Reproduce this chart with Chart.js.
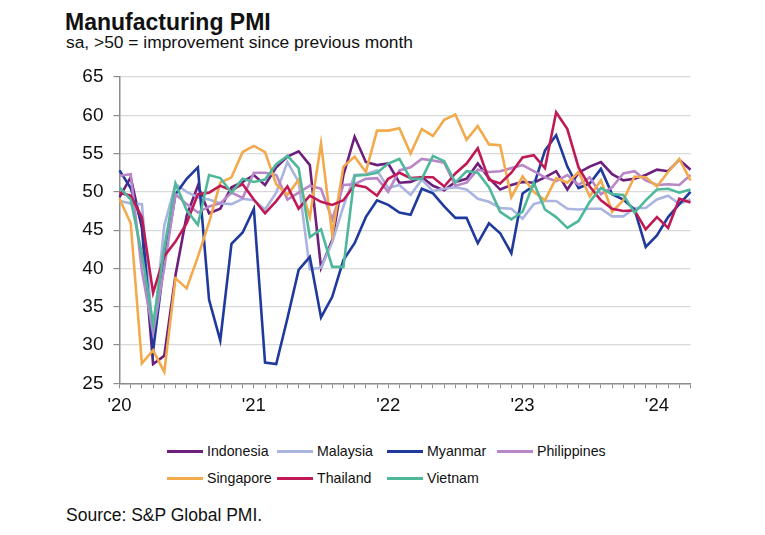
<!DOCTYPE html>
<html>
<head>
<meta charset="utf-8">
<script src="https://cdn.jsdelivr.net/npm/chart.js@4.4.1/dist/chart.umd.min.js"></script>
<style>
  html, body { margin:0; padding:0; background:#fff; }
  body { width:765px; height:535px; position:relative; overflow:hidden; font-family:"Liberation Sans", Arial, sans-serif; color:#111; }
  #title { position:absolute; left:65px; top:8.5px; font-size:23px; font-weight:bold; line-height:26px; white-space:nowrap; }
  #subtitle { position:absolute; left:66px; top:31.5px; font-size:17.4px; line-height:20px; white-space:nowrap; }
  #wrap { position:absolute; left:0; top:0; width:765px; height:430px; }
  #legend { position:absolute; left:0; top:440px; width:765px; }
  .lg { position:absolute; height:22px; font-size:14.2px; line-height:22px; white-space:nowrap; }
  .lg span.sw { position:absolute; left:0; top:10px; width:36px; height:3px; }
  .lg span.tx { position:absolute; left:40px; top:0; }
  #source { position:absolute; left:66px; top:505px; font-size:17.5px; line-height:20px; white-space:nowrap; }
</style>
</head>
<body>
<div id="title">Manufacturing PMI</div>
<div id="subtitle">sa, &gt;50 = improvement since previous month</div>
<div id="wrap"><canvas id="c" width="765" height="430"></canvas></div>
<div id="legend"></div>
<div id="source">Source: S&amp;P Global PMI.</div>
<script>
const months = [
  "2020-01","2020-02","2020-03","2020-04","2020-05","2020-06","2020-07","2020-08","2020-09","2020-10","2020-11","2020-12",
  "2021-01","2021-02","2021-03","2021-04","2021-05","2021-06","2021-07","2021-08","2021-09","2021-10","2021-11","2021-12",
  "2022-01","2022-02","2022-03","2022-04","2022-05","2022-06","2022-07","2022-08","2022-09","2022-10","2022-11","2022-12",
  "2023-01","2023-02","2023-03","2023-04","2023-05","2023-06","2023-07","2023-08","2023-09","2023-10","2023-11","2023-12",
  "2024-01","2024-02","2024-03","2024-04"
];
const yearTickLabels = { "2020-01":"'20", "2021-01":"'21", "2022-01":"'22", "2023-01":"'23", "2024-01":"'24" };
const yTicks = [25, 30, 35, 40, 45, 50, 55, 60, 65];

const indonesia = [49.3,51.9,45.3,27.5,28.6,39.1,46.9,50.8,47.2,47.8,50.6,51.3,
  52.2,50.9,53.2,54.6,55.3,53.5,40.1,43.7,52.2,57.2,53.9,53.5,
  53.7,51.2,51.3,51.9,50.8,50.2,51.3,51.7,53.7,51.8,50.3,50.9,
  51.3,51.2,51.9,52.7,50.3,52.5,53.3,53.9,52.3,51.5,51.7,52.2,
  52.9,52.7,54.2,52.9];
const malaysia = [48.8,48.5,48.4,31.3,45.6,51.0,50.0,49.3,49.0,48.5,48.4,49.1,
  48.9,47.7,49.9,53.9,51.3,39.9,40.1,43.4,48.1,52.2,52.3,52.8,
  50.5,50.9,49.6,51.6,50.1,50.4,50.6,50.3,49.1,48.7,47.9,47.8,
  46.5,48.4,48.8,48.8,47.8,47.7,47.8,47.8,46.8,46.8,47.9,47.9,
  49.0,49.5,48.4,49.0];
const myanmar = [52.8,50.5,45.9,29.2,41.0,49.7,51.7,53.2,35.9,30.6,43.2,44.7,
  47.8,27.7,27.5,33.5,39.8,41.5,33.6,36.3,41.1,43.3,46.7,48.9,
  48.3,47.3,47.0,50.4,49.8,48.1,46.6,46.6,43.3,45.9,44.6,42.0,
  49.8,50.8,55.4,57.4,53.3,50.5,51.1,53.0,49.7,49.0,47.7,42.8,
  44.3,46.7,48.4,50.0];
const philippines = [52.1,52.3,39.7,31.6,40.1,49.7,48.4,47.3,48.1,48.5,49.9,49.2,
  52.5,52.5,52.2,49.0,49.9,50.8,50.4,46.4,50.9,51.0,51.7,51.8,
  50.0,52.8,53.2,54.3,54.1,53.8,50.8,51.2,52.9,52.6,52.7,53.1,
  53.5,52.7,51.9,51.4,52.2,50.9,51.9,49.7,50.6,52.4,52.7,51.5,
  50.9,51.0,50.9,52.2];
const singapore = [49.1,45.9,27.6,29.3,26.5,38.7,37.4,41.5,46.0,51.2,51.9,55.2,
  56.0,55.2,51.0,49.6,51.6,46.7,56.3,44.4,53.3,54.6,52.6,58.0,
  58.0,58.3,55.0,58.2,57.3,59.4,60.1,56.8,58.6,56.2,56.1,49.3,
  52.0,50.0,48.9,51.8,51.2,52.6,49.4,51.5,47.4,48.9,52.0,51.9,
  50.7,52.6,54.3,51.5];
const thailand = [49.9,49.5,46.7,36.8,41.6,43.5,45.9,49.7,49.9,50.8,50.2,51.0,
  49.0,47.2,48.8,50.7,47.8,49.5,48.7,48.3,48.9,50.9,50.6,49.5,
  51.7,52.5,51.8,51.9,51.9,50.7,52.4,53.7,55.7,51.6,51.1,52.5,
  54.5,54.8,53.1,60.4,58.2,53.2,50.7,48.9,47.8,47.5,47.6,45.1,
  46.7,45.3,49.1,48.6];
const vietnam = [50.6,49.0,41.9,32.7,42.7,51.1,47.6,45.7,52.2,51.8,49.9,51.7,
  51.3,51.6,53.6,54.7,53.1,44.1,45.1,40.2,40.2,52.1,52.2,52.5,
  53.7,54.3,51.7,51.7,54.7,54.0,51.2,52.7,52.5,50.6,47.4,46.4,
  47.4,51.2,47.7,46.7,45.3,46.2,48.7,50.5,49.7,49.6,47.3,48.9,
  50.3,50.4,49.9,50.3];

const seriesNames = ["Indonesia","Malaysia","Myanmar","Philippines","Singapore","Thailand","Vietnam"];
const seriesValues = [indonesia, malaysia, myanmar, philippines, singapore, thailand, vietnam];
const seriesColors = ["#6d1f7e","#aab4e0","#1f3a9c","#b987c8","#f2aa4c","#bf1a55","#4fb89b"];

const datasets = seriesNames.map((n, i) => ({
  label: n,
  data: seriesValues[i],
  borderColor: seriesColors[i],
  backgroundColor: seriesColors[i],
  borderWidth: 2.6,
  pointRadius: 0,
  tension: 0,
  fill: false,
  order: seriesNames.length - i
}));

new Chart(document.getElementById('c'), {
  type: 'line',
  data: { labels: months, datasets: datasets },
  options: {
    responsive: false,
    animation: false,
    devicePixelRatio: 1,
    layout: { padding: { left: 0, right: 74.5, top: 77, bottom: 0 } },
    plugins: { legend: { display: false }, tooltip: { enabled: false }, title: { display: false } },
    scales: {
      x: {
        type: 'category',
        offset: false,
        border: { display: true, color: '#8c8c8c', width: 1.5 },
        grid: { display: true, drawOnChartArea: false, drawTicks: true, tickLength: 5, tickColor: '#8c8c8c', lineWidth: 1 },
        ticks: {
          autoSkip: false, maxRotation: 0, minRotation: 0, padding: 7,
          color: '#111', font: { family: 'Liberation Sans', size: 18.5 },
          callback: function(v, i) { return yearTickLabels[months[i]] || ''; }
        },
        afterFit: function(s) { s.height = 46.7; }
      },
      y: {
        min: 25, max: 65,
        border: { display: true, color: '#8c8c8c', width: 1.5 },
        grid: { color: '#d9d9d9', lineWidth: 1.2, drawTicks: true, tickLength: 6, tickColor: '#8c8c8c' },
        afterBuildTicks: function(s) { s.ticks = yTicks.map(v => ({ value: v })); },
        ticks: { padding: 10, color: '#111', font: { family: 'Liberation Sans', size: 19 } },
        afterFit: function(s) { s.width = 119.5; }
      }
    }
  }
});

// legend (HTML, built from series names/colours)
const legendPos = [[167,0],[277,0],[387,0],[497,0],[167,27],[277,27],[387,27]];
const lg = document.getElementById('legend');
seriesNames.forEach((n, i) => {
  const d = document.createElement('div');
  d.className = 'lg';
  d.style.left = legendPos[i][0] + 'px';
  d.style.top = legendPos[i][1] + 'px';
  d.innerHTML = '<span class="sw" style="background:' + seriesColors[i] + '"></span><span class="tx">' + n + '</span>';
  lg.appendChild(d);
});
</script>
</body>
</html>
